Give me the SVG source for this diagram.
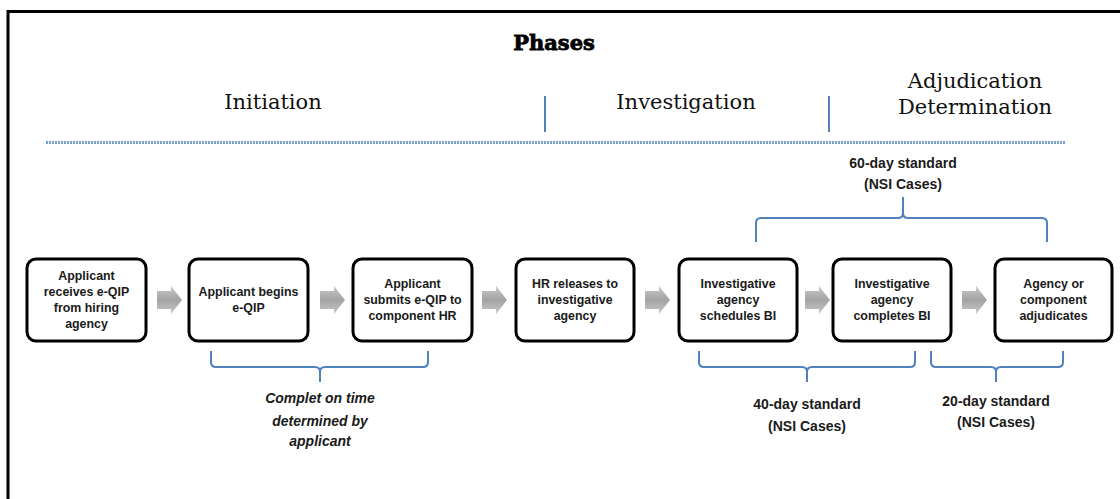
<svg xmlns="http://www.w3.org/2000/svg" width="1120" height="499" viewBox="0 0 1120 499">
<style>
.frame{fill:none;stroke:#000;stroke-width:3}
.box{fill:#fff;stroke:#000;stroke-width:3}
.bt{font-family:"Liberation Sans",Arial,sans-serif;font-weight:bold;font-size:12.4px;fill:#1a1a1a;text-anchor:middle}
.ph{font-family:"DejaVu Serif",serif;font-size:21px;fill:#111;text-anchor:middle}
.title{font-family:"DejaVu Serif",serif;font-weight:bold;font-size:21px;fill:#000;stroke:#000;stroke-width:0.8;text-anchor:middle}
.lab{font-family:"Liberation Sans",Arial,sans-serif;font-weight:bold;font-size:14px;fill:#1a1a1a;text-anchor:middle}
.it{font-style:italic}
.sep{stroke:#4F81BD;stroke-width:2;fill:none}
.dots{stroke:#4F81BD;stroke-width:3;stroke-dasharray:2 1;opacity:0.75;fill:none}
.brace{stroke:#4F81BD;stroke-width:2;fill:none}
.arrow{fill:url(#ag)}
</style>
<defs>
<linearGradient id="ag" x1="0" y1="0" x2="0" y2="1">
<stop offset="0" stop-color="#C9C9C9"/>
<stop offset="0.5" stop-color="#A3A3A3"/>
<stop offset="1" stop-color="#C9C9C9"/>
</linearGradient>
<path id="arr" d="M0,291 H14 V286 L25,300 L14,314 V309 H0 Z"/>
</defs>
<rect width="1120" height="499" fill="#fff"/>
<g id="frame">
<path class="frame" d="M8,499 V11.5 H1120"/>
</g>
<g id="header">
<text class="title" x="554" y="50">Phases</text>
<text class="ph" x="273" y="109">Initiation</text>
<text class="ph" x="686" y="109">Investigation</text>
<text class="ph" x="975" y="88">Adjudication</text>
<text class="ph" x="975" y="114">Determination</text>
<line class="sep" x1="545" y1="96" x2="545" y2="132"/>
<line class="sep" x1="829" y1="96" x2="829" y2="132"/>
<line class="dots" x1="46" y1="142.5" x2="1065" y2="142.5"/>
</g>
<g id="n1">
<rect class="box" x="27" y="259" width="119" height="82" rx="9"/>
<text class="bt" x="86.5" y="280">Applicant</text>
<text class="bt" x="86.5" y="296">receives e-QIP</text>
<text class="bt" x="86.5" y="312">from hiring</text>
<text class="bt" x="86.5" y="328">agency</text>
</g>
<g id="n2">
<rect class="box" x="189" y="259" width="119" height="82" rx="9"/>
<text class="bt" x="248.5" y="296">Applicant begins</text>
<text class="bt" x="248.5" y="312">e-QIP</text>
</g>
<g id="n3">
<rect class="box" x="353" y="259" width="119" height="82" rx="9"/>
<text class="bt" x="412.5" y="288">Applicant</text>
<text class="bt" x="412.5" y="304">submits e-QIP to</text>
<text class="bt" x="412.5" y="320">component HR</text>
</g>
<g id="n4">
<rect class="box" x="516" y="259" width="118" height="82" rx="9"/>
<text class="bt" x="575" y="288">HR releases to</text>
<text class="bt" x="575" y="304">investigative</text>
<text class="bt" x="575" y="320">agency</text>
</g>
<g id="n5">
<rect class="box" x="679" y="259" width="118" height="82" rx="9"/>
<text class="bt" x="738" y="288">Investigative</text>
<text class="bt" x="738" y="304">agency</text>
<text class="bt" x="738" y="320">schedules BI</text>
</g>
<g id="n6">
<rect class="box" x="833" y="259" width="118" height="82" rx="9"/>
<text class="bt" x="892" y="288">Investigative</text>
<text class="bt" x="892" y="304">agency</text>
<text class="bt" x="892" y="320">completes BI</text>
</g>
<g id="n7">
<rect class="box" x="995" y="259" width="117" height="82" rx="9"/>
<text class="bt" x="1053.5" y="288">Agency or</text>
<text class="bt" x="1053.5" y="304">component</text>
<text class="bt" x="1053.5" y="320">adjudicates</text>
</g>
<g id="connectors">
<use href="#arr" class="arrow" x="157"/>
<use href="#arr" class="arrow" x="320"/>
<use href="#arr" class="arrow" x="482"/>
<use href="#arr" class="arrow" x="645"/>
<use href="#arr" class="arrow" x="805"/>
<use href="#arr" class="arrow" x="962"/>
</g>
<g id="braces">
<path class="brace" d="M211,351 V362 Q211,367 216,367 H315 Q320,367 320,372 V382 M320,372 Q320,367 325,367 H423 Q428,367 428,362 V351"/>
<path class="brace" d="M699,351 V362 Q699,367 704,367 H802 Q807,367 807,372 V382 M807,372 Q807,367 812,367 H910 Q915,367 915,362 V351"/>
<path class="brace" d="M931,351 V362 Q931,367 936,367 H991 Q996,367 996,372 V382 M996,372 Q996,367 1001,367 H1058 Q1063,367 1063,362 V351"/>
<path class="brace" d="M756,242 V223 Q756,218 761,218 H898 Q903,218 903,213 V197 M903,213 Q903,218 908,218 H1042 Q1047,218 1047,223 V242"/>
</g>
<g id="labels">
<text class="lab it" x="320" y="403">Complet on time</text>
<text class="lab it" x="320" y="426">determined by</text>
<text class="lab it" x="320" y="446">applicant</text>
<text class="lab" x="807" y="409">40-day standard</text>
<text class="lab" x="807" y="431">(NSI Cases)</text>
<text class="lab" x="996" y="406">20-day standard</text>
<text class="lab" x="996" y="427">(NSI Cases)</text>
<text class="lab" x="903" y="168">60-day standard</text>
<text class="lab" x="903" y="189">(NSI Cases)</text>
</g>
</svg>
